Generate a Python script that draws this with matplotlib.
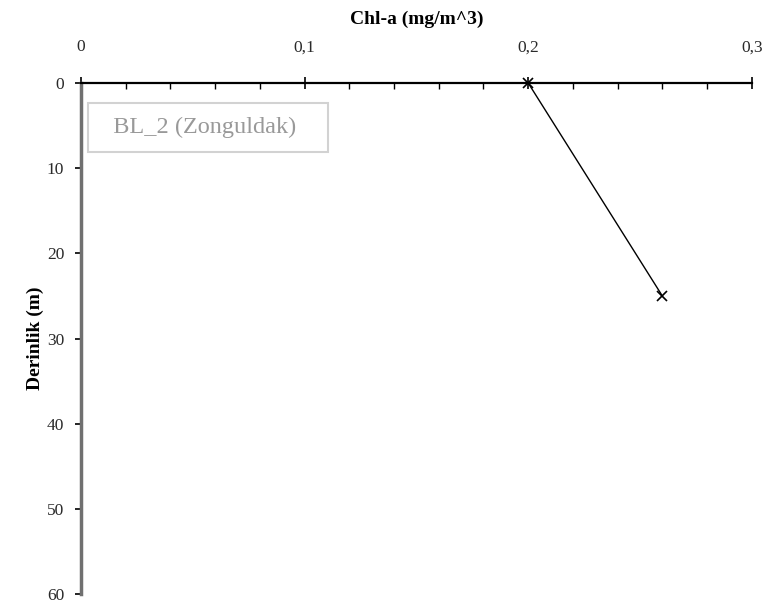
import numpy as np
import matplotlib.pyplot as plt
from matplotlib.ticker import FixedLocator, FuncFormatter, MultipleLocator

# Chl-a profile at station BL_2
chla = [0.2, 0.26]
depth = [0, 25]
x_ticks = [0, 0.1, 0.2, 0.3]
y_ticks = [0, 10, 20, 30, 40, 50, 60]

plt.rcParams['font.family'] = ['Liberation Serif', 'DejaVu Serif']

fig = plt.figure(figsize=(7.64, 6.10), dpi=100)
ax = fig.add_axes([0.106, 0.026, 0.878, 0.838])

ax.plot(chla, depth, color='black', linewidth=1.0, marker='x',
        markersize=7, markeredgewidth=1.2, label='BL_2 (Zonguldak)', clip_on=False)

ax.set_xlim(0, 0.3)
ax.set_ylim(60, 0)

ax.xaxis.set_ticks_position('top')
ax.xaxis.set_label_position('top')
ax.xaxis.set_major_locator(FixedLocator(x_ticks))
ax.xaxis.set_minor_locator(MultipleLocator(0.02))
ax.xaxis.set_major_formatter(FuncFormatter(lambda v, p: ('%g' % round(v, 2)).replace('.', ',')))
ax.yaxis.set_major_locator(FixedLocator(y_ticks))

ax.tick_params(axis='x', which='major', direction='inout', length=8, width=1.2,
               labelsize=12.5, pad=16, colors='black', labelcolor='#2a2a2a')
ax.tick_params(axis='x', which='minor', direction='in', length=4, width=1.0)
ax.tick_params(axis='y', which='major', direction='out', length=4, width=1.2,
               labelsize=12.5, pad=8, labelcolor='#2a2a2a')

for s in ['right', 'bottom']:
    ax.spines[s].set_visible(False)
ax.spines['top'].set_color('black')
ax.spines['top'].set_linewidth(1.6)
ax.spines['left'].set_color('#707070')
ax.spines['left'].set_linewidth(2.5)

ax.set_xlabel('Chl-a (mg/m^3)', fontsize=14, fontweight='bold', labelpad=11)
ax.set_ylabel('Derinlik (m)', fontsize=14, fontweight='bold', labelpad=2)

leg = ax.legend(loc='upper left', bbox_to_anchor=(0.0104, 0.961), borderaxespad=0,
                handlelength=0, handletextpad=0, markerscale=0, fancybox=False,
                framealpha=1, borderpad=0.55, prop={'size': 17.5})
leg.get_frame().set_edgecolor('#d2d2d2')
leg.get_frame().set_linewidth(1.5)
for h in leg.legend_handles:
    h.set_visible(False)
for t in leg.get_texts():
    t.set_color('#999999')
    t.set_text('  BL_2 (Zonguldak)   ')

fig.savefig('out.png', dpi=100)
